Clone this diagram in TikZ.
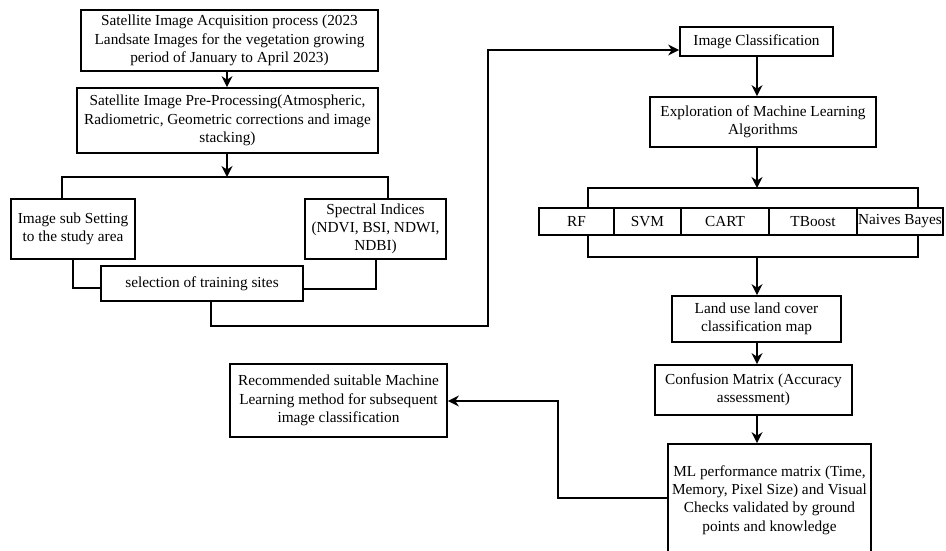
\documentclass[tikz,border=0pt]{standalone}
\usepackage{fontspec}
\setmainfont{Liberation Serif}
\usetikzlibrary{arrows.meta}
\begin{document}
\begin{tikzpicture}[x=1pt,y=-1pt,
  box/.style={draw, line width=1.7pt, inner sep=0pt, align=center,
    font=\fontsize{15.3}{18.2}\selectfont},
  conn/.style={line width=1.7pt},
  arr/.style={line width=1.7pt, -{Stealth[length=11pt,width=11pt]}}]
\useasboundingbox (0,0) rectangle (946,551);
\fill[white] (0,0) rectangle (946,551);
\begin{scope}
\clip (0,0) rectangle (946,551);
% left column
\node[box, minimum width=297pt, minimum height=61pt] (A) at (229.5,40.5)
  {Satellite Image Acquisition process (2023\\Landsate Images for the vegetation growing\\period of January to April 2023)};
\node[box, minimum width=301pt, minimum height=65pt] (B) at (227.5,120.5)
  {\raisebox{3pt}{\parbox{300pt}{\centering Satellite Image Pre-Processing(Atmospheric,\\Radiometric, Geometric corrections and image\\stacking)}}};
\node[box, minimum width=124pt, minimum height=60pt] (C) at (73,229)
  {Image sub Setting\\to the study area};
\node[box, minimum width=141pt, minimum height=60pt] (D) at (375.5,229)
  {Spectral Indices\\(NDVI, BSI, NDWI,\\NDBI)};
\node[box, minimum width=202pt, minimum height=35pt] (E) at (202,283.5)
  {selection of training sites};
% right column
\node[box, minimum width=153pt, minimum height=29pt] (F) at (756.5,41.5)
  {\raisebox{3pt}{Image Classification}};
\node[box, minimum width=226pt, minimum height=50pt] (G) at (763,122)
  {Exploration of Machine Learning\\Algorithms};
\node[box, minimum width=75pt, minimum height=27pt] (RF) at (576.5,221.5) {RF};
\node[box, minimum width=67pt, minimum height=27pt] (SVM) at (647.5,221.5) {SVM};
\node[box, minimum width=88pt, minimum height=27pt] (CART) at (725,221.5) {CART};
\node[box, minimum width=88pt, minimum height=27pt] (TB) at (813,221.5) {TBoost};
\node[box, minimum width=86pt, minimum height=27pt] (NB) at (900,221.5) {Naives Bayes};
\node[box, minimum width=169pt, minimum height=46pt] (H) at (756.5,319)
  {Land use land cover\\classification map};
\node[box, minimum width=197pt, minimum height=50pt] (I) at (753.5,390)
  {Confusion Matrix (Accuracy\\assessment)};
\node[box, minimum width=203pt, minimum height=112pt] (J) at (769.5,500)
  {ML performance matrix (Time,\\Memory, Pixel Size) and Visual\\Checks validated by ground\\points and knowledge};
\node[box, minimum width=217pt, minimum height=73pt] (K) at (338.5,400.5)
  {Recommended suitable Machine\\Learning method for subsequent\\image classification};
% coordinates
\coordinate (b1) at (227,177);
\coordinate (b1l) at (62,177);
\coordinate (b1r) at (388,177);
\coordinate (e1) at (73,288);
\coordinate (e2) at (376,289);
\coordinate (t1) at (211,326);
\coordinate (t2) at (488,326);
\coordinate (t3) at (488,50);
\coordinate (g1) at (757,188);
\coordinate (g1l) at (588,188);
\coordinate (g1r) at (918,188);
\coordinate (g2) at (757,257);
\coordinate (g2l) at (588,257);
\coordinate (g2r) at (918,257);
\coordinate (j1) at (558,498);
\coordinate (j2) at (558,401);
% connectors left
\draw[arr] (A.south -| b1) -- (B.north -| b1);
\draw[arr] (B.south -| b1) -- (b1);
\draw[conn] (C.north -| b1l) -- (b1l) -- (b1r) -- (D.north -| b1r);
\draw[conn] (C.south -| e1) -- (e1) -- (E.west |- e1);
\draw[conn] (D.south -| e2) -- (e2) -- (E.east |- e2);
\draw[arr] (E.south -| t1) -- (t1) -- (t2) -- (t3) -- (F.west |- t3);
% connectors right
\draw[arr] (F.south -| g1) -- (G.north -| g1);
\draw[arr] (G.south -| g1) -- (g1);
\draw[conn] (RF.north -| g1l) -- (g1l) -- (g1r) -- (NB.north -| g1r);
\draw[conn] (RF.south -| g2l) -- (g2l) -- (g2r) -- (NB.south -| g2r);
\draw[arr] (g2) -- (H.north -| g2);
\draw[arr] (H.south -| g2) -- (I.north -| g2);
\draw[arr] (I.south -| g2) -- (J.north -| g2);
\draw[arr] (J.west |- j1) -- (j1) -- (j2) -- (K.east |- j2);
\end{scope}
\end{tikzpicture}
\end{document}
